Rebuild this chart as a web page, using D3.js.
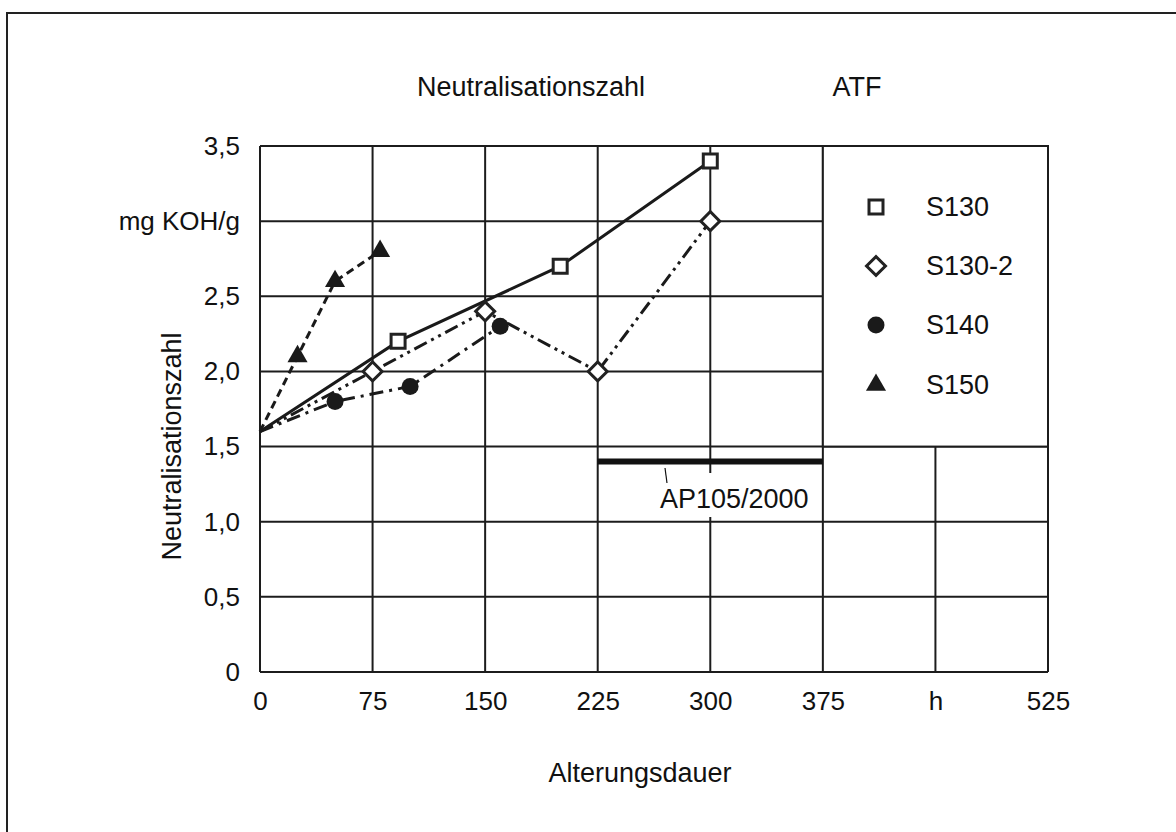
<!DOCTYPE html>
<html>
<head>
<meta charset="utf-8">
<script src="https://cdn.jsdelivr.net/npm/d3@7"></script>
<style>
  body { margin: 0; background: #fff; }
  text { font-family: "Liberation Sans", Arial, sans-serif; fill: #111; }
</style>
</head>
<body>
<div id="chart"></div>
<script>
// Data
const xTicks = [0, 75, 150, 225, 300, 375, 450, 525];
const xTickLabels = ["0", "75", "150", "225", "300", "375", "h", "525"];
const yTicks = [0, 0.5, 1, 1.5, 2, 2.5, 3, 3.5];
const yTickLabels = ["0", "0,5", "1,0", "1,5", "2,0", "2,5", "mg KOH/g", "3,5"];

const seriesNames = ["S130", "S130-2", "S140", "S150"];
const s130Hours = [0, 92, 200, 300];
const s130Vals = [1.6, 2.2, 2.7, 3.4];
const s1302Hours = [0, 75, 150, 225, 300];
const s1302Vals = [1.6, 2.0, 2.4, 2.0, 3.0];
const s140Hours = [0, 50, 100, 160];
const s140Vals = [1.6, 1.8, 1.9, 2.3];
const s150Hours = [0, 25, 50, 80];
const s150Vals = [1.6, 2.1, 2.6, 2.8];

const apRange = [225, 375];
const apValue = 1.4;
const apLabel = "AP105/2000";

const width = 1176, height = 832;
const margin = { top: 146, right: 128, bottom: 160, left: 260 };

const x = d3.scaleLinear().domain([0, 525]).range([margin.left, width - margin.right]);
const y = d3.scaleLinear().domain([0, 3.5]).range([height - margin.bottom, margin.top]);

const svg = d3.select("#chart").append("svg")
  .attr("width", width)
  .attr("height", height);

// outer frame (only left and top edges show)
svg.append("rect")
  .attr("x", 7).attr("y", 13)
  .attr("width", width + 20).attr("height", height + 20)
  .attr("fill", "none").attr("stroke", "#222").attr("stroke-width", 2);

// grid
const grid = svg.append("g").attr("stroke", "#1c1c1c").attr("stroke-width", 2);
grid.selectAll("line.v").data(xTicks).enter().append("line")
  .attr("x1", d => x(d)).attr("x2", d => x(d))
  .attr("y1", y(0)).attr("y2", y(3.5));
grid.selectAll("line.h").data(yTicks).enter().append("line")
  .attr("x1", x(0)).attr("x2", x(525))
  .attr("y1", d => y(d)).attr("y2", d => y(d));

// legend box hides the grid in the top right
svg.append("rect")
  .attr("x", x(375)).attr("y", y(3.5))
  .attr("width", x(525) - x(375)).attr("height", y(1.5) - y(3.5))
  .attr("fill", "#fff").attr("stroke", "#1c1c1c").attr("stroke-width", 2);

// x axis labels
svg.append("g")
  .attr("transform", `translate(0,${y(0)})`)
  .call(d3.axisBottom(x).tickValues(xTicks).tickSize(0).tickPadding(20)
    .tickFormat((d, i) => xTickLabels[i]))
  .call(g => g.select(".domain").remove())
  .selectAll("text").style("font-size", "26px")
  .attr("font-family", null);

// y axis labels
svg.append("g")
  .attr("transform", `translate(${x(0) - 20},0)`)
  .call(d3.axisLeft(y).tickValues(yTicks).tickSize(0).tickPadding(0)
    .tickFormat((d, i) => yTickLabels[i]))
  .call(g => g.select(".domain").remove())
  .selectAll("text").style("font-size", "26px")
  .attr("font-family", null);

// AP105/2000 bar
svg.append("line")
  .attr("x1", x(apRange[0])).attr("x2", x(apRange[1]))
  .attr("y1", y(apValue)).attr("y2", y(apValue))
  .attr("stroke", "#111").attr("stroke-width", 6);
svg.append("rect")
  .attr("x", 655).attr("y", 473).attr("width", 163).attr("height", 44)
  .attr("fill", "#fff");
svg.append("line")
  .attr("x1", 665).attr("y1", 468).attr("x2", 667).attr("y2", 483)
  .attr("stroke", "#111").attr("stroke-width", 1.2);
svg.append("text")
  .attr("x", 660).attr("y", 508)
  .style("font-size", "27px")
  .text(apLabel);

// series
const series = [
  { hours: s130Hours, vals: s130Vals, dash: null, sym: "square" },
  { hours: s1302Hours, vals: s1302Vals, dash: "14,5,3,5,3,5", sym: "diamond" },
  { hours: s140Hours, vals: s140Vals, dash: "14,6,3,6", sym: "circle" },
  { hours: s150Hours, vals: s150Vals, dash: "8,5", sym: "triangle" }
];

const line = d3.line().x(d => x(d[0])).y(d => y(d[1]));

function marker(sel, sym) {
  if (sym === "square") {
    sel.attr("d", d3.symbol(d3.symbolSquare, 196)())
      .attr("fill", "#fff").attr("stroke", "#222").attr("stroke-width", 3);
  } else if (sym === "diamond") {
    sel.attr("d", d3.symbol(d3.symbolSquare, 180)())
      .attr("fill", "#fff").attr("stroke", "#222").attr("stroke-width", 3);
  } else if (sym === "circle") {
    sel.attr("d", d3.symbol(d3.symbolCircle, 227)())
      .attr("fill", "#1a1a1a").attr("stroke", "none");
  } else {
    sel.attr("d", d3.symbol(d3.symbolTriangle, 175)())
      .attr("fill", "#1a1a1a").attr("stroke", "none");
  }
}

series.forEach(s => {
  const pts = s.hours.map((h, i) => [h, s.vals[i]]);
  svg.append("path")
    .datum(pts)
    .attr("fill", "none")
    .attr("stroke", "#1a1a1a")
    .attr("stroke-width", 3)
    .attr("stroke-dasharray", s.dash)
    .attr("d", line);
  svg.selectAll(null)
    .data(pts.slice(1))
    .enter().append("path")
    .attr("transform", d => `translate(${x(d[0])},${y(d[1])})` + (s.sym === "diamond" ? " rotate(45)" : ""))
    .call(marker, s.sym);
});

// legend
const legendRows = [207, 266, 325, 385];
series.forEach((s, i) => {
  svg.append("path")
    .attr("transform", `translate(876,${legendRows[i]})` + (s.sym === "diamond" ? " rotate(45)" : ""))
    .call(marker, s.sym);
  svg.append("text")
    .attr("x", 926).attr("y", legendRows[i])
    .attr("dy", "0.35em")
    .style("font-size", "27px")
    .text(seriesNames[i]);
});

// titles
svg.append("text")
  .attr("x", 531).attr("y", 87).attr("dy", "0.35em")
  .style("text-anchor", "middle").style("font-size", "27px")
  .text("Neutralisationszahl");
svg.append("text")
  .attr("x", 857).attr("y", 87).attr("dy", "0.35em")
  .style("text-anchor", "middle").style("font-size", "27px")
  .text("ATF");
svg.append("text")
  .attr("x", 640).attr("y", 773).attr("dy", "0.35em")
  .style("text-anchor", "middle").style("font-size", "27px")
  .text("Alterungsdauer");
svg.append("text")
  .attr("transform", `translate(172,${y(1.6) + 15}) rotate(-90)`)
  .attr("dy", "0.35em")
  .style("text-anchor", "middle").style("font-size", "27px")
  .text("Neutralisationszahl");
</script>
</body>
</html>
